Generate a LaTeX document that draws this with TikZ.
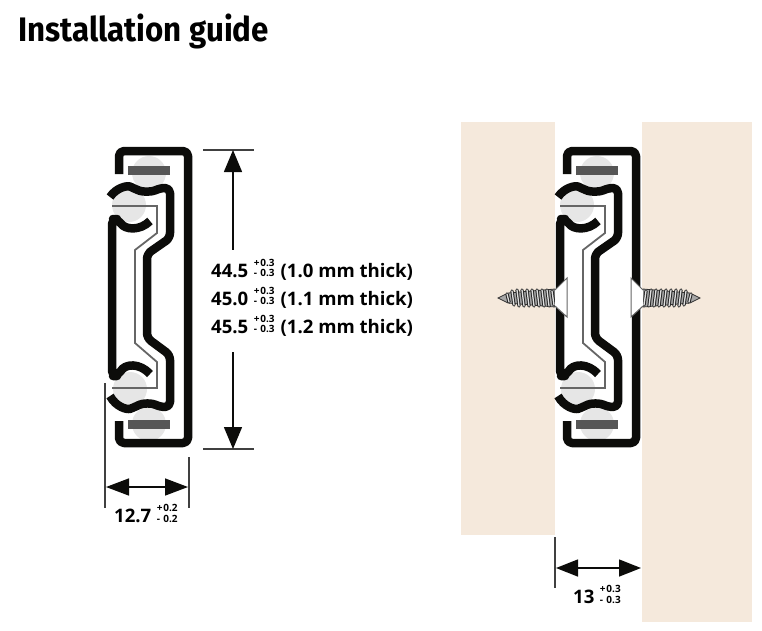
\documentclass[tikz,border=0pt]{standalone}
\usepackage{fontspec}
\setmainfont{Open Sans}
\newfontfamily\titlefont[FakeStretch=0.92]{Fira Sans}
\usetikzlibrary{arrows.meta}

\definecolor{wood}{HTML}{F5E9DC}
\definecolor{ballgrey}{HTML}{E6E6E6}
\definecolor{bargrey}{HTML}{565656}
\definecolor{railblack}{HTML}{0C0C0A}

\newcommand{\tolbox}[1]{\hspace{5.5pt}\raisebox{4.5pt}{$\vcenter{\fontsize{10}{10.5}\selectfont\bfseries\hbox{\makebox[6.5pt][l]{+}#1}\hbox{\makebox[6.5pt][l]{-}#1}}$}}

\tikzset{
    rail/.style     = {draw=railblack, line width=8.5pt, line join=round, rounded corners=5pt},
    thinrail/.style = {draw=black!60, line width=1.8pt},
    dimtip/.style   = {{Triangle[length=22pt,width=18pt]}-},
    dimline/.style  = {draw=railblack, line width=1.5pt},
    extline/.style  = {draw=black!75, line width=1.3pt},
    dimtext/.style  = {font=\fontsize{18.6}{28}\selectfont\bfseries, inner sep=0pt, align=left},
    thread/.style   = {draw=black!85, double=black!12, double distance=1.3pt, line width=1pt, line cap=round},
    slide/.pic = {
        % Kugeln
        \fill[ballgrey] (149,173) circle (17);
        \fill[ballgrey] (149,424) circle (17);
        \fill[ballgrey] (129,205) circle (17);
        \fill[ballgrey] (130,389) circle (17);
        % Abdeckung
        \fill[bargrey] (128,166) rectangle (170,175);
        \fill[bargrey] (128,420) rectangle (170,429);
        % Schiene aussen
        \draw[rail] (119,174) -- (119,151) -- (188,151) -- (188,443) -- (119,443) -- (119,421);
        % Schiene innen
        \draw[thinrail] (112,206) -- (157,206) -- (157,233) -- (135,250) -- (135,343) -- (157,362) -- (157,388) -- (112,388);
        % Schiene mitte
        \draw[rail] (110,197) .. controls (116,188) and (127,185) .. (135,189)
            .. controls (143,192) and (152,192) .. (160,188)
            -- (170,188) -- (170,238) -- (147,254) -- (147,338) -- (170,355) -- (170,407) -- (160,407)
            .. controls (152,403) and (143,403) .. (135,407)
            .. controls (127,410) and (116,407) .. (110,396);
        % Schiene links
        \draw[rail] (150,221) .. controls (140,231) and (125,230) .. (118,219)
            -- (112,219) -- (112,376) -- (118,376)
            .. controls (125,363) and (140,363) .. (150,374);
    },
    screw/.pic = {
        \filldraw[draw=black!80, fill=black!35, line width=.8pt] (498,298) -- (508,293) -- (555,289) -- (555,307) -- (508,303) -- cycle;
        \foreach \x/\h in {508/4, 513/7, 518/8, 523/8, 528/8, 533/8, 538/8, 543/8, 548/8, 553/7}
            \draw[thread] (\x-1,298-\h) -- (\x+1,298+\h);
        % Kopf
        \fill[white] (555,290) -- (567,278) -- (567,317) -- (555,306) -- cycle;
        \draw[draw=black!60, line width=1pt] (555,290) -- (567,278) -- (567,317) -- (555,306);
    },
}

\begin{document}
\begin{tikzpicture}[x=1pt, y=-1pt]
    \useasboundingbox (0,0) rectangle (762,630);

    % Titel
    \node (title) [anchor=base west, inner sep=0pt] at (18,41) {\titlefont\fontsize{34}{34}\selectfont\bfseries Installation guide};

    % Holz
    \fill[wood] (461,122) rectangle (555,535);
    \fill[wood] (642,122) rectangle (752,622);

    \pic at (0,0) {slide};
    \pic at (448,0) {slide};

    % Schrauben
    \pic at (0,0) {screw};
    \begin{scope}[shift={(1198,0)}, xscale=-1]
        \pic[transform shape] at (0,0) {screw};
    \end{scope}

    % Hoehe
    \coordinate (heighttopl) at (203,150);
    \coordinate (heighttopr) at (254,150);
    \coordinate (heightbotl) at (203,449);
    \coordinate (heightbotr) at (254,449);
    \coordinate (heighttop) at (233,150);
    \coordinate (heightbot) at (233,449);
    \coordinate (heightup) at (233,250);
    \coordinate (heightdown) at (233,352);
    \draw[extline] (heighttopl) -- (heighttopr);
    \draw[extline] (heightbotl) -- (heightbotr);
    \draw[dimline, dimtip] (heighttop) -- (heightup);
    \draw[dimline, dimtip] (heightbot) -- (heightdown);
    \node (heightone) [dimtext, anchor=base west] at (211,277) {44.5\tolbox{0.3}\hspace{6pt}(1.0 mm thick)};
    \node (heighttwo) [dimtext, anchor=base west] at (211,305) {45.0\tolbox{0.3}\hspace{6pt}(1.1 mm thick)};
    \node (heightthree) [dimtext, anchor=base west] at (211,333) {45.5\tolbox{0.3}\hspace{6pt}(1.2 mm thick)};

    % Breite
    \coordinate (widthlt) at (105,383);
    \coordinate (widthlb) at (105,508);
    \coordinate (widthrt) at (189,457);
    \coordinate (widthrb) at (189,508);
    \coordinate (widthl) at (106,487);
    \coordinate (widthr) at (188,487);
    \draw[extline] (widthlt) -- (widthlb);
    \draw[extline] (widthrt) -- (widthrb);
    \draw[dimline, {Triangle[length=23pt,width=17pt]}-{Triangle[length=23pt,width=17pt]}] (widthl) -- (widthr);
    \node (widthtext) [dimtext, anchor=base west] at (114,522) {12.7\tolbox{0.2}};

    % Abstand
    \coordinate (gapt) at (555,537);
    \coordinate (gapb) at (555,588);
    \coordinate (gapl) at (556,568);
    \coordinate (gapr) at (641,568);
    \draw[extline] (gapt) -- (gapb);
    \draw[dimline, {Triangle[length=22pt,width=17pt]}-{Triangle[length=22pt,width=17pt]}] (gapl) -- (gapr);
    \node (gaptext) [dimtext, anchor=base west] at (573,603) {13\tolbox{0.3}};
\end{tikzpicture}
\end{document}
